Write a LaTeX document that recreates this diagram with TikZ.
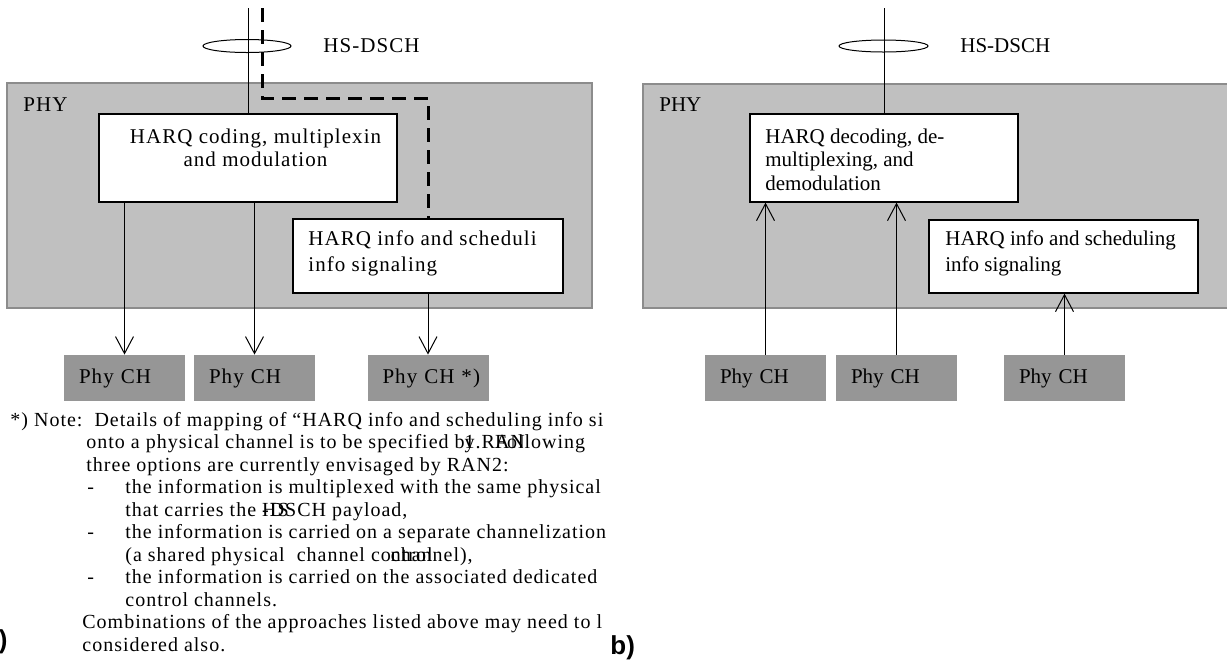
\documentclass[tikz,border=0pt]{standalone}
\usepackage{fontspec}
\setmainfont{Liberation Serif}
\setsansfont{Liberation Sans}
\newfontfamily\spacedfont[LetterSpace=5]{Liberation Serif}
\usetikzlibrary{arrows.meta,calc,positioning}
\tikzset{>={Straight Barb[length=8.5pt,width=9pt]}}
\definecolor{phygray}{RGB}{192,192,192}
\definecolor{phyedge}{RGB}{140,140,140}
\definecolor{chgray}{RGB}{150,150,150}
\tikzset{
  layer/.style={draw=phyedge, fill=phygray, line width=0.7pt},
  procbox/.style={draw=black, fill=white, line width=0.6pt, inner sep=0pt},
  chbox/.style={fill=chgray, minimum width=60.5pt, minimum height=23pt, text width=45.5pt, inner xsep=7.5pt, align=left},
  ltxt/.style={font={\spacedfont\fontsize{10.5}{11.5}\selectfont}, inner sep=0pt},
  rtxt/.style={font={\fontsize{10.5}{11.75}\selectfont}, inner sep=0pt},
  notetxt/.style={font={\spacedfont\fontsize{10}{11.25}\selectfont}, inner sep=0pt, anchor=west, text height=7pt, text depth=2pt},
  tag/.style={font={\sffamily\bfseries\fontsize{13}{13}\selectfont}, inner sep=0pt},
  feed/.style={line width=0.5pt},
  ctrl/.style={line width=1.5pt, dash pattern=on 7pt off 4pt},
  conn/.style={->, line width=0.5pt}
}

\begin{document}
\begin{tikzpicture}[x=0.5pt, y=-0.5pt]
  \useasboundingbox (0,0) rectangle (1227,666);

  % a) transmitter side
  \draw [layer] (7,83) rectangle (592,308);
  \node [ltxt, anchor=west] (phyL) at (23,105) {PHY};
  \node [procbox, minimum width=149pt, minimum height=44pt] (codec) at (248,158) {};
  \node [ltxt, align=center] (codectxt) at (255.5,147.5) {HARQ coding, multiplexin\\and modulation};
  \node [procbox, minimum width=135pt, minimum height=37pt] (sig) at (428,256) {};
  \node [ltxt, align=left, anchor=west, font={\spacedfont\fontsize{10.5}{13}\selectfont}] (sigtxt) at (308,253) {HARQ info and scheduli\\info signaling};
  \node [ltxt, chbox] (chA) at (124.5,378) {Phy CH};
  \node [ltxt, chbox] (chB) at (254.5,378) {Phy CH};
  \node [ltxt, chbox] (chC) at (428,378) {Phy~CH~*)};

  \coordinate (feedL) at (248,8);
  \draw [feed] (feedL) -- (codec.north);
  \draw [feed] (247,46) ellipse [x radius=22pt, y radius=3.25pt];
  \node [ltxt, anchor=west] (hsL) at (323,46) {HS-DSCH};
  \coordinate (ctrltop) at (262,8);
  \coordinate (ctrlbend) at (428,98);
  \draw [ctrl] (ctrltop) |- (ctrlbend) -- (sig.north);

  \draw [conn] (codec.south -| chA.north) -- (chA.north);
  \draw [conn] (codec.south -| chB.north) -- (chB.north);
  \draw [conn] (sig.south) -- (chC.north);

  \begin{scope}
    \clip (0,400) rectangle (606,666);
    \node [notetxt] (n0) at (10,421) {*) Note:\ \ Details of mapping of “HARQ info and scheduling info si};
    \node [notetxt] (n1) at (86,443.5) {onto a physical channel is to be specified b\rlap{y}1.R\rlap{AN}Following};
    \node [notetxt] (n2) at (86,466) {three options are currently envisaged by RAN2:};
    \foreach \y/\n in {488.5/1,533.5/2,578.5/3}
      \node [notetxt] (dash\n) at (87,\y) {-};
    \node [notetxt] (n3) at (125,488.5) {the information is multiplexed with the same physical};
    \node [notetxt] (n4) at (125,511) {that carries the \rlap{HS}-DSCH payload,};
    \node [notetxt] (n5) at (125,533.5) {the information is carried on a separate channelization};
    \node [notetxt] (n6) at (125,556) {(a shared physical\ \ channel co\rlap{ntrol}channel),};
    \node [notetxt] (n7) at (125,578.5) {the information is carried on the associated dedicated};
    \node [notetxt] (n8) at (125,601) {control channels.};
    \node [notetxt] (n9) at (82,623.5) {Combinations of the approaches listed above may need to l};
    \node [notetxt] (n10) at (82,646) {considered also.};
  \end{scope}
  \node [tag, anchor=east] (tagA) at (8,642) {a)};

  % b) receiver side
  \draw [layer] (643,84) rectangle (1240,308);
  \node [rtxt, anchor=west] (phyR) at (659,105) {PHY};
  \node [procbox, minimum width=134pt, minimum height=44pt] (decode) at (884,158) {};
  \node [rtxt, align=left, anchor=west] (decodetxt) at (765,159.5) {HARQ decoding, de-\\multiplexing, and\\demodulation};
  \node [procbox, minimum width=134.5pt, minimum height=36.5pt] (sigR) at (1063.5,256.5) {};
  \node [rtxt, align=left, anchor=west, font={\fontsize{10.5}{13}\selectfont}] (sigRtxt) at (945,253) {HARQ info and scheduling\\info signaling};
  \node [rtxt, chbox] (chRA) at (765.5,378) {Phy CH};
  \node [rtxt, chbox] (chRB) at (896.5,378) {Phy CH};
  \node [rtxt, chbox] (chRC) at (1064.5,378) {Phy CH};

  \coordinate (feedR) at (884,8);
  \draw [feed] (feedR) -- (decode.north);
  \draw [feed] (883.5,46) ellipse [x radius=22.25pt, y radius=3pt];
  \node [rtxt, anchor=west] (hsR) at (960,46) {HS-DSCH};

  \draw [conn] (chRA.north) -- (decode.south -| chRA.north);
  \draw [conn] (chRB.north) -- (decode.south -| chRB.north);
  \draw [conn] (chRC.north) -- (sigR.south -| chRC.north);
  \node [tag, anchor=west] (tagB) at (610,648) {b)};
\end{tikzpicture}
\end{document}
